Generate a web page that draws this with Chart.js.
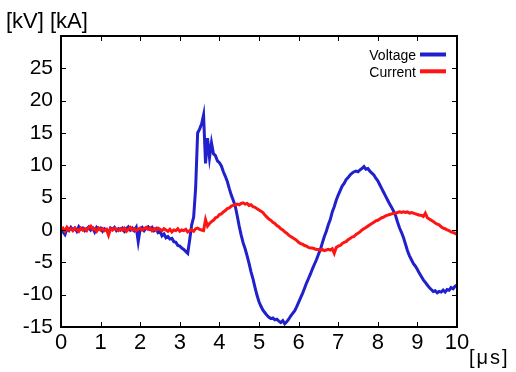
<!DOCTYPE html>
<html><head><meta charset="utf-8">
<script src="https://cdn.jsdelivr.net/npm/chart.js@4/dist/chart.umd.min.js"></script>
<style>html,body{margin:0;padding:0;background:#fff;}canvas{display:block;}</style>
</head><body>
<canvas id="c" width="516" height="372"></canvas>
<script>
// ---- data ----
const xTickValues = [0,1,2,3,4,5,6,7,8,9,10];
const yTickValues = [-15,-10,-5,0,5,10,15,20,25,30];
const seriesNames = ['Voltage','Current'];
const yAxisTitle = '[kV] [kA]';
const xAxisTitle = '[μs]';
const sampleStepUs = 0.05; // sampling grid of the traces (0 .. 10 μs)

const voltage = [
 0.0,-0.3,-0.7,0.2,-0.1,0.4,0.0,0.3,-0.2,0.5,0.1,0.3,-0.1,0.2,0.5,0.0,0.3,-0.3,0.4,0.1,
 0.3,-0.2,0.2,0.0,-0.4,0.3,0.1,0.4,-0.1,0.2,0.0,0.3,-0.2,0.2,0.5,0.0,0.3,-0.1,0.4,-1.8,
 0.2,0.4,-0.1,0.3,0.5,0.1,0.4,-0.1,0.2,-0.4,-0.2,-0.9,-0.6,-1.2,-1.0,-1.4,-1.3,-1.8,-1.9,-2.4,
 -2.5,-2.8,-3.0,-3.3,-3.6,-1.5,0.8,2.0,6.5,15.0,15.6,16.4,17.8,10.3,14.2,11.2,13.5,11.8,11.5,10.7,
 10.4,9.9,9.0,8.3,7.5,6.4,5.4,4.6,3.7,2.2,0.6,-0.8,-2.0,-2.9,-4.0,-5.2,-6.5,-7.6,-8.9,-10.1,
 -11.1,-11.8,-12.4,-12.8,-13.2,-13.5,-13.7,-13.6,-13.9,-13.8,-14.1,-14.3,-14.0,-14.5,-14.2,-13.8,-13.3,-12.9,-12.5,-11.9,
 -11.2,-10.5,-9.8,-9.0,-8.2,-7.5,-6.8,-6.0,-5.3,-4.6,-3.8,-3.0,-2.0,-1.0,-0.2,0.8,1.6,2.8,3.6,4.6,
 5.4,6.1,6.8,7.2,7.8,8.1,8.5,8.8,9.0,9.1,9.0,9.3,9.5,9.8,9.4,9.5,9.1,8.8,8.5,8.0,
 7.6,7.0,6.4,5.8,5.2,4.6,4.0,3.5,2.9,2.2,1.2,0.3,-0.4,-1.2,-2.2,-3.2,-4.0,-4.6,-5.2,-5.6,
 -6.1,-6.7,-7.2,-7.7,-8.1,-8.5,-8.9,-9.2,-9.5,-9.4,-9.7,-9.5,-9.6,-9.3,-9.6,-9.2,-9.3,-8.9,-9.1,-8.7,
 -8.5
];
const current = [
 0.1,0.3,-0.2,0.4,0.0,0.2,-0.1,0.3,0.1,-0.2,0.3,0.0,0.2,-0.1,0.4,0.6,0.1,0.2,-0.2,0.3,
 0.0,0.2,-0.1,0.1,-0.8,0.2,0.0,0.3,0.1,-0.1,0.2,0.0,0.3,-0.2,0.1,0.4,0.0,0.2,-0.1,0.1,
 0.3,0.0,0.2,0.4,0.1,0.3,-0.1,0.2,0.0,0.3,0.1,-0.1,0.2,0.0,-0.2,0.1,-0.3,0.0,-0.1,0.2,
 -0.2,0.0,-0.1,0.1,-0.3,-0.1,0.0,-0.2,0.2,0.3,0.1,0.0,-0.1,1.6,0.6,1.0,1.3,1.5,1.9,2.0,
 2.4,2.5,2.8,3.0,3.3,3.4,3.7,3.8,3.9,4.0,3.9,4.1,4.2,4.0,4.1,3.8,3.9,3.6,3.5,3.3,
 3.1,2.9,2.7,2.3,2.0,1.7,1.5,1.2,1.0,0.7,0.5,0.2,0.0,-0.3,-0.5,-0.8,-1.0,-1.2,-1.4,-1.6,
 -1.9,-2.1,-2.2,-2.4,-2.5,-2.7,-2.8,-2.8,-2.9,-3.0,-3.0,-3.1,-3.0,-3.2,-3.1,-3.0,-3.1,-2.9,-3.6,-2.7,
 -2.5,-2.4,-2.1,-1.9,-1.8,-1.5,-1.3,-1.1,-1.0,-0.7,-0.5,-0.3,0.0,0.2,0.4,0.6,0.8,1.0,1.2,1.4,
 1.5,1.7,1.9,2.0,2.2,2.3,2.4,2.5,2.6,2.6,2.7,2.8,2.7,2.8,2.7,2.8,2.6,2.7,2.6,2.5,
 2.4,2.3,2.3,2.1,2.6,1.9,1.7,1.5,1.3,1.1,0.9,0.8,0.5,0.3,0.2,0.0,-0.1,-0.3,-0.4,-0.5,
 -0.7
];

// ---- styling ----
const BLUE = '#2020cc';
const RED = '#ff1414';
const FONT = '"Liberation Sans", Arial, Helvetica, sans-serif';

const toPoints = vals => vals.map((v, i) => ({x: Math.round(i * sampleStepUs * 100) / 100, y: v}));

const framePlugin = {
  id: 'frame',
  afterDatasetsDraw(chart) {
    const {ctx, chartArea: a, scales: {x, y}} = chart;
    ctx.save();
    ctx.strokeStyle = '#000';
    ctx.lineWidth = 1;
    ctx.beginPath();
    xTickValues.forEach(v => {
      const px = Math.round(x.getPixelForValue(v)) + 0.5;
      ctx.moveTo(px, a.bottom); ctx.lineTo(px, a.bottom - 5);
      ctx.moveTo(px, a.top); ctx.lineTo(px, a.top + 5);
    });
    yTickValues.forEach(v => {
      const py = Math.round(y.getPixelForValue(v)) + 0.5;
      ctx.moveTo(a.left, py); ctx.lineTo(a.left + 5, py);
      ctx.moveTo(a.right, py); ctx.lineTo(a.right - 5, py);
    });
    ctx.stroke();
    ctx.lineWidth = 2;
    ctx.strokeRect(a.left, a.top, a.right - a.left, a.bottom - a.top);

    // legend inside the plot, text left of the sample line
    ctx.font = '14px ' + FONT;
    ctx.textAlign = 'right';
    ctx.textBaseline = 'alphabetic';
    ctx.fillStyle = '#000';
    chart.data.datasets.forEach((ds, i) => {
      const ly = a.top + 18.5 + i * 16.8;
      ctx.fillText(ds.label, a.right - 41, ly + 5.3);
      ctx.strokeStyle = ds.borderColor;
      ctx.lineWidth = 4;
      ctx.beginPath();
      ctx.moveTo(a.right - 37, ly);
      ctx.lineTo(a.right - 11, ly);
      ctx.stroke();
    });

    // axis unit labels
    ctx.fillStyle = '#000';
    ctx.textAlign = 'left';
    ctx.font = '22px ' + FONT;
    ctx.fillText(yAxisTitle, 6, 27.5);
    ctx.font = '20px ' + FONT;
    try { ctx.letterSpacing = '2px'; } catch (e) {}
    ctx.fillText(xAxisTitle, 469, 364);
    ctx.restore();
  }
};

new Chart(document.getElementById('c'), {
  type: 'line',
  data: {
    datasets: [
      {label: seriesNames[0], data: toPoints(voltage), borderColor: BLUE, backgroundColor: BLUE,
       borderWidth: 3, pointRadius: 0, tension: 0, order: 2},
      {label: seriesNames[1], data: toPoints(current), borderColor: RED, backgroundColor: RED,
       borderWidth: 3, pointRadius: 0, tension: 0, order: 1}
    ]
  },
  options: {
    responsive: false,
    animation: false,
    devicePixelRatio: 1,
    layout: {padding: {left: 0, top: 36, right: 59, bottom: 0}},
    plugins: {legend: {display: false}, tooltip: {enabled: false}},
    scales: {
      x: {
        type: 'linear', min: 0, max: 10,
        afterBuildTicks: s => { s.ticks = xTickValues.map(v => ({value: v})); },
        afterFit: s => { s.height = 45; },
        grid: {display: false, drawTicks: false},
        border: {display: false},
        ticks: {color: '#000', font: {family: FONT, size: 22}, padding: 3, maxRotation: 0, autoSkip: false,
                callback: v => String(v)}
      },
      y: {
        type: 'linear', min: -15, max: 30,
        afterBuildTicks: s => { s.ticks = yTickValues.map(v => ({value: v})); },
        afterFit: s => { s.width = 61; },
        grid: {display: false, drawTicks: false},
        border: {display: false},
        ticks: {color: '#000', font: {family: FONT, size: 21}, padding: 8, autoSkip: false,
                callback: v => (v === 30 ? '' : String(v))}
      }
    }
  },
  plugins: [framePlugin]
});
</script>
</body></html>
